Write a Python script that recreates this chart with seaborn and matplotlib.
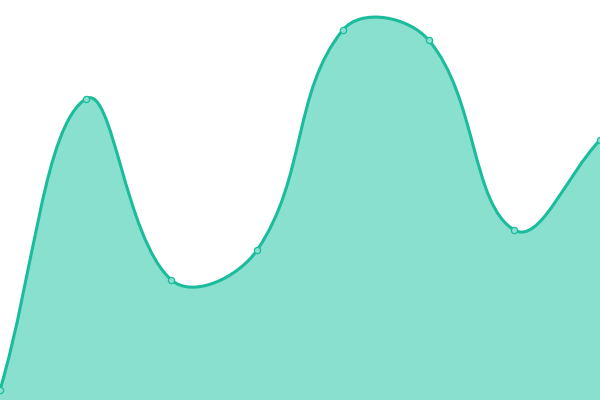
import numpy as np
import pandas as pd
import seaborn as sns
import matplotlib
matplotlib.use("Agg")
import matplotlib.pyplot as plt
from matplotlib.path import Path
from matplotlib.patches import PathPatch

categories = list(range(8))
values = [10, 301, 120, 150, 370, 360, 170, 260]

sns.set_theme(style="white")
fig = plt.figure(figsize=(6, 4), dpi=100)
ax = fig.add_axes([0, 0, 1, 1])
xmax = len(categories) - 1
ymax = 400
ax.set_xlim(0, xmax)
ax.set_ylim(0, ymax)
ax.axis("off")

# spline smoothing (tension 0.4), computed in pixel space
sx, sy = 600 / xmax, 400 / ymax
P = np.array([[c * sx, v * sy] for c, v in zip(categories, values)], dtype=float)
n = len(P)
t = 0.4
cp_prev, cp_next = [], []
for i in range(n):
    prev = P[max(i - 1, 0)]
    cur = P[i]
    nxt = P[min(i + 1, n - 1)]
    d01 = np.hypot(*(cur - prev))
    d12 = np.hypot(*(nxt - cur))
    tot = d01 + d12
    s01 = d01 / tot if tot else 0
    s12 = d12 / tot if tot else 0
    a = cur - t * s01 * (nxt - prev)
    b = cur + t * s12 * (nxt - prev)
    a = np.clip(a, [0, 0], [600, 400])
    b = np.clip(b, [0, 0], [600, 400])
    cp_prev.append(a)
    cp_next.append(b)

verts = [tuple(P[0])]
codes = [Path.MOVETO]
for i in range(1, n):
    verts += [tuple(cp_next[i - 1]), tuple(cp_prev[i]), tuple(P[i])]
    codes += [Path.CURVE4] * 3

verts = np.array(verts)
verts[:, 0] /= sx
verts[:, 1] /= sy
line_path = Path(verts, codes)
fill_verts = np.vstack([verts, [[verts[-1, 0], 0], [verts[0, 0], 0], verts[0]]])
fill_codes = list(codes) + [Path.LINETO, Path.LINETO, Path.CLOSEPOLY]
ax.add_patch(PathPatch(Path(fill_verts, fill_codes), facecolor="#8ae0cf", edgecolor="none", zorder=1))
ax.add_patch(PathPatch(line_path, facecolor="none", edgecolor="#1abc9c", linewidth=2.2, zorder=2))

df = pd.DataFrame({"x": categories, "y": values})
sns.scatterplot(data=df, x="x", y="y", ax=ax, s=20, color="#8ae0cf", edgecolor="#1abc9c",
                linewidth=0.9, zorder=3, clip_on=False, legend=False)
ax.set_xlim(0, xmax)
ax.set_ylim(0, ymax)
ax.axis("off")
fig.savefig("out.png", dpi=100)
